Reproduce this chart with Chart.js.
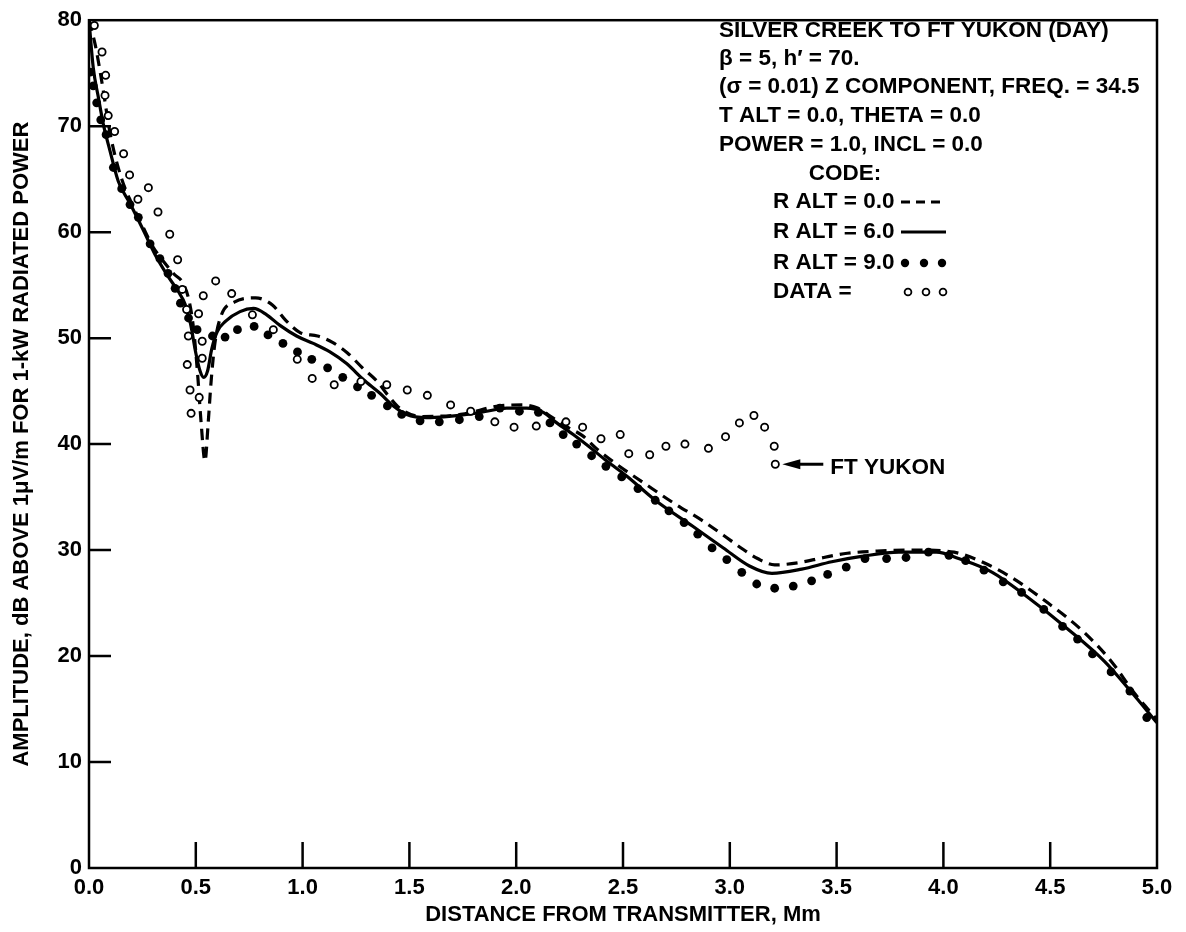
<!DOCTYPE html>
<html>
<head>
<meta charset="utf-8">
<title>Silver Creek to Ft Yukon (Day)</title>
<script src="https://cdn.jsdelivr.net/npm/chart.js@4.4.1/dist/chart.umd.min.js"></script>
<style>
  html, body { margin: 0; padding: 0; background: #fff; }
  #wrap { width: 1186px; height: 932px; }
</style>
</head>
<body>
<div id="wrap"><canvas id="chart" width="1186" height="932"></canvas></div>
<script>
// R ALT = 0.0 (dashed)
const dashX = [0, 0.03, 0.06, 0.1, 0.15, 0.2, 0.25, 0.3, 0.35, 0.4, 0.44, 0.47, 0.49, 0.51, 0.525, 0.543, 0.558, 0.572, 0.59, 0.62,
  0.68, 0.78, 0.86, 0.92, 0.99, 1.07, 1.14, 1.21, 1.28, 1.35, 1.4, 1.46, 1.56, 1.74, 1.92, 2.03, 2.1, 2.17, 2.24, 2.31,
  2.38, 2.47, 2.6, 2.74, 2.87, 2.97, 3.06, 3.13, 3.21, 3.32, 3.44, 3.55, 3.69, 3.88, 4.05, 4.19, 4.32, 4.49, 4.65, 4.79,
  4.89, 5.0];
const dashY = [80, 77.6, 74.2, 69.2, 65.2, 62.7, 60.6, 58.6, 57.2, 56.0, 55.2, 53.4, 50.8, 46.2, 42.0, 38.4, 42.0, 46.0, 49.6, 52.2,
  53.4, 53.8, 53.1, 51.7, 50.5, 50.2, 49.6, 48.6, 47.2, 45.9, 44.6, 43.3, 42.6, 42.8, 43.6, 43.7, 43.4, 42.5, 41.6, 40.8,
  39.5, 38.1, 36.3, 34.4, 32.8, 31.4, 30.1, 29.2, 28.6, 28.8, 29.3, 29.7, 29.9, 30.0, 29.8, 28.8, 27.4, 25.0, 22.4, 19.4,
  16.6, 14.0];

// R ALT = 6.0 (solid)
const solidX = [0, 0.02, 0.044, 0.067, 0.098, 0.137, 0.192, 0.254, 0.309, 0.371, 0.418, 0.45, 0.475, 0.5, 0.52, 0.537, 0.555, 0.575, 0.6, 0.64,
  0.707, 0.77, 0.832, 0.894, 0.972, 1.05, 1.128, 1.206, 1.284, 1.362, 1.425, 1.487, 1.58, 1.674, 1.768, 1.862, 1.955, 2.049, 2.127, 2.19,
  2.267, 2.345, 2.424, 2.517, 2.651, 2.83, 2.97, 3.092, 3.197, 3.337, 3.477, 3.617, 3.792, 3.967, 4.071, 4.229, 4.404, 4.579, 4.754, 4.876,
  5.0];
const solidY = [80, 75.5, 72.7, 70.2, 67.7, 64.8, 62.7, 60.2, 57.9, 55.8, 54.4, 53.2, 51.4, 48.6, 46.9, 46.3, 46.9, 49.0, 50.6, 51.6,
  52.5, 52.8, 52.2, 51.2, 50.2, 49.5, 48.7, 47.6, 46.1, 44.8, 43.6, 42.8, 42.5, 42.6, 42.8, 43.1, 43.4, 43.4, 43.0, 42.0,
  40.9, 39.7, 38.4, 37.0, 34.7, 32.2, 30.2, 28.5, 27.8, 28.2, 28.9, 29.4, 29.8, 29.8, 29.2, 27.9, 25.4, 22.6, 19.5, 16.7,
  13.7];

// R ALT = 9.0 (filled dots)
const dotX = [0.005, 0.02, 0.036, 0.055, 0.08, 0.114, 0.153, 0.192, 0.231, 0.286, 0.332, 0.37, 0.403, 0.428, 0.466, 0.506, 0.578, 0.637, 0.695, 0.773,
  0.838, 0.908, 0.976, 1.043, 1.117, 1.188, 1.257, 1.323, 1.397, 1.464, 1.55, 1.64, 1.734, 1.827, 1.924, 2.015, 2.104, 2.158, 2.22, 2.283,
  2.353, 2.42, 2.494, 2.57, 2.651, 2.715, 2.786, 2.85, 2.917, 2.986, 3.056, 3.126, 3.21, 3.297, 3.383, 3.458, 3.545, 3.633, 3.734, 3.825,
  3.93, 4.026, 4.104, 4.19, 4.28, 4.366, 4.47, 4.558, 4.628, 4.698, 4.785, 4.873, 4.952];
const dotY = [75.1, 73.8, 72.2, 70.6, 69.2, 66.1, 64.1, 62.6, 61.4, 58.9, 57.5, 56.1, 54.7, 53.3, 51.9, 50.8, 50.2, 50.1, 50.8, 51.1,
  50.3, 49.5, 48.7, 48.0, 47.2, 46.3, 45.4, 44.6, 43.6, 42.8, 42.2, 42.1, 42.3, 42.6, 43.4, 43.1, 43.0, 42.0, 40.9, 40.0,
  38.9, 37.9, 36.9, 35.8, 34.7, 33.7, 32.6, 31.5, 30.2, 29.1, 27.9, 26.8, 26.4, 26.6, 27.1, 27.7, 28.4, 29.2, 29.2, 29.3,
  29.8, 29.5, 29.0, 28.1, 27.0, 26.0, 24.4, 22.8, 21.6, 20.2, 18.5, 16.7, 14.2];

// measured data (open circles), last one is Ft Yukon
const dataX = [0.025, 0.061, 0.075, 0.078, 0.09, 0.12, 0.162, 0.19, 0.229, 0.278, 0.323, 0.378, 0.415, 0.437, 0.457, 0.46, 0.465, 0.473, 0.478, 0.513,
  0.516, 0.53, 0.53, 0.535, 0.593, 0.668, 0.765, 0.863, 0.975, 1.045, 1.148, 1.273, 1.394, 1.49, 1.584, 1.693, 1.787, 1.9, 1.99, 2.094,
  2.233, 2.311, 2.397, 2.487, 2.527, 2.625, 2.701, 2.79, 2.9, 2.98, 3.045, 3.113, 3.163, 3.208, 3.213];
const dataY = [79.5, 77.0, 72.9, 74.8, 71.0, 69.5, 67.4, 65.4, 63.1, 64.2, 61.9, 59.8, 57.4, 54.6, 52.7, 47.5, 50.2, 45.1, 42.9, 52.3,
  44.4, 49.7, 48.1, 54.0, 55.4, 54.2, 52.2, 50.8, 48.0, 46.2, 45.6, 45.9, 45.6, 45.1, 44.6, 43.7, 43.1, 42.1, 41.6, 41.7,
  42.1, 41.6, 40.5, 40.9, 39.1, 39.0, 39.8, 40.0, 39.6, 40.7, 42.0, 42.7, 41.6, 39.8, 38.1];

const titleLines = [
  'SILVER CREEK TO FT YUKON (DAY)',
  'β = 5, h′ = 70.',
  '(σ = 0.01) Z COMPONENT, FREQ. = 34.5',
  'T ALT = 0.0, THETA = 0.0',
  'POWER = 1.0, INCL = 0.0'
];
const codeLabels = ['R ALT = 0.0', 'R ALT = 6.0', 'R ALT = 9.0', 'DATA ='];
const xTitle = 'DISTANCE FROM TRANSMITTER, Mm';
const yTitle = 'AMPLITUDE, dB ABOVE 1μV/m FOR 1-kW RADIATED POWER';
const yukonLabel = 'FT YUKON';

const FONT = '"Liberation Sans", Arial, Helvetica, sans-serif';
const toPts = (xs, ys) => xs.map((x, i) => ({ x: x, y: ys[i] }));

// frame, inward ticks, titles and the text block, as in the printed figure
const paperPlugin = {
  id: 'paper',
  afterDatasetsDraw(chart) {
    const { ctx, chartArea: a, scales: { x, y } } = chart;
    ctx.save();
    ctx.strokeStyle = '#000';
    ctx.fillStyle = '#000';
    ctx.lineWidth = 2.5;
    ctx.strokeRect(a.left, a.top, a.right - a.left, a.bottom - a.top);

    ctx.beginPath();
    x.ticks.forEach(t => {
      if (t.value <= x.min || t.value >= x.max) return;
      const px = x.getPixelForValue(t.value);
      ctx.moveTo(px, a.bottom);
      ctx.lineTo(px, a.bottom - 26);
    });
    y.ticks.forEach(t => {
      if (t.value <= y.min || t.value >= y.max) return;
      const py = y.getPixelForValue(t.value);
      ctx.moveTo(a.left, py);
      ctx.lineTo(a.left + 22, py);
    });
    ctx.stroke();

    ctx.textBaseline = 'middle';

    // axis titles
    ctx.font = 'bold 22px ' + FONT;
    ctx.textAlign = 'center';
    ctx.fillText(xTitle, (a.left + a.right) / 2, 915);
    ctx.save();
    ctx.translate(22, (a.top + a.bottom) / 2);
    ctx.rotate(-Math.PI / 2);
    ctx.fillText(yTitle, 0, 0);
    ctx.restore();

    // text block top right
    ctx.font = 'bold 22.5px ' + FONT;
    ctx.textAlign = 'left';
    const rows = [31, 59, 87, 116, 145];
    titleLines.forEach((s, i) => ctx.fillText(s, 719, rows[i]));
    ctx.textAlign = 'center';
    ctx.fillText('CODE:', 845, 174);
    ctx.textAlign = 'left';
    const codeRows = [202, 232, 263, 292];
    codeLabels.forEach((s, i) => ctx.fillText(s, 773, codeRows[i]));

    ctx.lineWidth = 3;
    ctx.setLineDash([9, 6]);
    ctx.beginPath();
    ctx.moveTo(901, codeRows[0]);
    ctx.lineTo(946, codeRows[0]);
    ctx.stroke();
    ctx.setLineDash([]);
    ctx.beginPath();
    ctx.moveTo(901, codeRows[1]);
    ctx.lineTo(946, codeRows[1]);
    ctx.stroke();
    [905, 924, 942].forEach(cx => {
      ctx.beginPath();
      ctx.arc(cx, codeRows[2], 4.2, 0, Math.PI * 2);
      ctx.fill();
    });
    ctx.lineWidth = 1.8;
    [908, 926, 943].forEach(cx => {
      ctx.beginPath();
      ctx.arc(cx, codeRows[3], 3.4, 0, Math.PI * 2);
      ctx.stroke();
    });

    // Ft Yukon pointer, anchored on the last measured point
    const n = dataX.length - 1;
    const px = x.getPixelForValue(dataX[n]);
    const py = y.getPixelForValue(dataY[n]);
    ctx.lineWidth = 3;
    ctx.beginPath();
    ctx.moveTo(px + 24, py);
    ctx.lineTo(px + 48, py);
    ctx.stroke();
    ctx.beginPath();
    ctx.moveTo(px + 7, py);
    ctx.lineTo(px + 25, py - 5);
    ctx.lineTo(px + 25, py + 5);
    ctx.closePath();
    ctx.fill();
    ctx.textAlign = 'left';
    ctx.fillText(yukonLabel, px + 55, py + 4);
    ctx.restore();
  }
};

const tickFont = { family: FONT, size: 22, weight: 'bold' };

new Chart(document.getElementById('chart'), {
  type: 'scatter',
  data: {
    datasets: [
      {
        label: 'DATA',
        data: toPts(dataX, dataY),
        showLine: false,
        pointRadius: 3.6,
        pointHoverRadius: 3.6,
        pointBorderWidth: 1.8,
        pointBorderColor: '#000',
        pointBackgroundColor: '#fff'
      },
      {
        label: 'R ALT = 9.0',
        data: toPts(dotX, dotY),
        showLine: false,
        pointRadius: 4.4,
        pointHoverRadius: 4.4,
        pointBorderWidth: 0,
        pointBackgroundColor: '#000'
      },
      {
        label: 'R ALT = 6.0',
        data: toPts(solidX, solidY),
        showLine: true,
        borderColor: '#000',
        borderWidth: 3.2,
        pointRadius: 0,
        cubicInterpolationMode: 'monotone'
      },
      {
        label: 'R ALT = 0.0',
        data: toPts(dashX, dashY),
        showLine: true,
        borderColor: '#000',
        borderWidth: 3.2,
        borderDash: [11, 7],
        pointRadius: 0,
        cubicInterpolationMode: 'monotone'
      }
    ]
  },
  options: {
    responsive: false,
    animation: false,
    devicePixelRatio: 1,
    layout: { padding: { left: 0, top: 15, right: 29, bottom: 0 } },
    plugins: {
      legend: { display: false },
      tooltip: { enabled: false }
    },
    scales: {
      x: {
        type: 'linear',
        min: 0,
        max: 5,
        grid: { display: false, drawTicks: false },
        border: { display: false },
        ticks: {
          stepSize: 0.5,
          padding: 7,
          color: '#000',
          font: tickFont,
          maxRotation: 0,
          autoSkip: false,
          callback: v => v.toFixed(1)
        },
        afterFit: s => { s.height = 64; }
      },
      y: {
        type: 'linear',
        min: 0,
        max: 80,
        grid: { display: false, drawTicks: false },
        border: { display: false },
        ticks: {
          stepSize: 10,
          padding: 7,
          color: '#000',
          font: tickFont
        },
        afterFit: s => { s.width = 89; }
      }
    }
  },
  plugins: [paperPlugin]
});
</script>
</body>
</html>
